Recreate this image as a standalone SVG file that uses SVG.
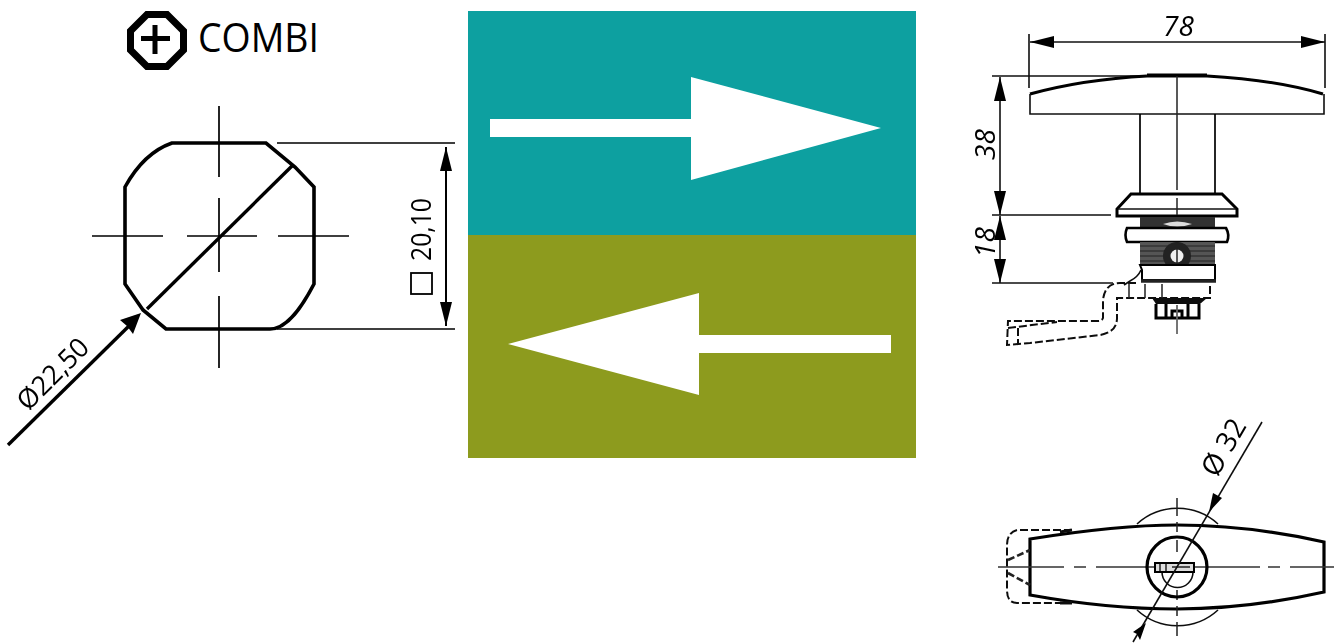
<svg xmlns="http://www.w3.org/2000/svg" width="1334" height="644" viewBox="0 0 1334 644">
<defs>
<style>
.l{fill:none;stroke:#000;stroke-width:1.7}
.m{fill:none;stroke:#111;stroke-width:1.6}
.b{fill:none;stroke:#000;stroke-width:3.6}
.h{fill:none;stroke:#000;stroke-width:3}
.d{fill:none;stroke:#111;stroke-width:2;stroke-dasharray:8 3}
.c{fill:none;stroke:#222;stroke-width:1.5}
.t{font-family:"Open Sans","Liberation Sans",sans-serif;fill:#000}
.i{font-style:italic}
.k{fill:#000;stroke:none}
</style>
<filter id="soft" x="-5%" y="-5%" width="110%" height="110%"><feGaussianBlur stdDeviation="0.4"/></filter>
<marker id="ah" viewBox="0 0 24 12" refX="24" refY="6" markerWidth="24" markerHeight="12" markerUnits="userSpaceOnUse" orient="auto-start-reverse"><path d="M0 0L24 6L0 12Z" fill="#000"/></marker>
</defs>
<rect width="1334" height="644" fill="#fff"/>
<g id="panel-top"><rect x="468" y="11" width="448" height="224" fill="#0da0a0"/>
<path d="M490 119H691V77L881 128L691 180V137H490Z" fill="#fff"/></g>
<g id="panel-bottom"><rect x="468" y="235" width="448" height="223" fill="#8d9b1e"/>
<path d="M891 335H699V293L508 344L699 395V353H891Z" fill="#fff"/></g>
<g id="combi">
<path d="M147 14.500H167L183.500 31V50L167 66.500H147L130.500 50V31Z" fill="none" stroke="#000" stroke-width="7"/>
<path d="M155 25V54M141 38.500H170" fill="none" stroke="#000" stroke-width="5"/>
<text class="t" x="198" y="52" font-size="40" textLength="121" lengthAdjust="spacingAndGlyphs">COMBI</text>
</g>
<g id="profile" filter="url(#soft)">
<path class="b" d="M172 143H266L295 167L314 187V284C303 305 288 329 270 329H166L143 310L125 284V187C136 167 152 150 172 143Z"/>
<path class="l" d="M219 106V177M219 198V272M219 296V368M92 236H163M187 236H257M278 236H349"/>
<path d="M293 165L147 309" fill="none" stroke="#000" stroke-width="3.400"/>
<path d="M8 445L132 323" fill="none" stroke="#000" stroke-width="3.400"/>
<path class="k" d="M141 313L120 320L127 326L133 334Z"/>
<path class="l" d="M277 143H455M277 329H455"/>
<path d="M446 147V326" fill="none" stroke="#000" stroke-width="2" marker-start="url(#ah)" marker-end="url(#ah)"/>
<rect x="411" y="273" width="21" height="21" fill="none" stroke="#000" stroke-width="1.800"/>
<text class="t" font-size="27" transform="translate(431 261) rotate(-90)" textLength="63" lengthAdjust="spacingAndGlyphs">20,10</text>
<text class="t" font-size="27" transform="translate(28 412) rotate(-45)" textLength="89" lengthAdjust="spacingAndGlyphs">Ø22,50</text>
</g>
<g id="side-view" filter="url(#soft)">
<path class="m" d="M1029 34V88M1325 34V88M992 76H1145M992 215H1111M992 283H1113"/>
<path class="m" d="M1030 42H1325" marker-start="url(#ah)" marker-end="url(#ah)"/>
<path class="m" d="M1000 77V215" marker-start="url(#ah)" marker-end="url(#ah)"/>
<path class="m" d="M1000 216V283" marker-start="url(#ah)" marker-end="url(#ah)"/>
<text class="t i" font-size="28" x="1163" y="36">78</text>
<text class="t i" font-size="28" transform="translate(995 160) rotate(-90)">38</text>
<text class="t i" font-size="28" transform="translate(995 258) rotate(-90)">18</text>
<path class="h" d="M1030 94C1070 83 1110 78 1147 76M1207 76C1245 78 1285 83 1323 94"/>
<path d="M1147 75.500H1207" stroke="#000" stroke-width="4" fill="none"/>
<path class="m" stroke-width="2" d="M1030 94V114H1324V94"/>
<path class="c" d="M1177 76V190"/>
<path class="l" stroke-width="2" d="M1140 114V194M1215 114V194"/>
<path class="h" stroke-width="2.400" d="M1131 194H1222L1237 209V216H1117V209Z"/>
<path d="M1118 209H1236" class="m"/>
<path d="M1177 198V215" class="c"/>
<rect x="1140" y="217" width="75" height="11" fill="#333"/>
<path d="M1163 224Q1177 219 1192 224Q1177 229 1163 224Z" fill="#ddd"/>
<path d="M1127 228H1226Q1230 235 1227 242H1127Q1124 235 1127 228Z" fill="#fff" stroke="#000" stroke-width="2.600"/>
<rect x="1140" y="242" width="75" height="23" fill="#555"/>
<path d="M1140 246H1215M1140 251H1215M1140 256H1215M1140 261H1215" stroke="#222" stroke-width="1.200"/>
<circle cx="1177" cy="256" r="14" fill="#222"/>
<circle cx="1177" cy="256" r="6.500" fill="#eee"/>
<path d="M1177 242V280" class="c"/>
<path d="M1140 265H1215V280H1142V270Z" fill="#fff" stroke="#000" stroke-width="2"/>
<path d="M1141 281H1216" stroke="#222" stroke-width="3.400" fill="none"/>
<path class="m" d="M1141 270Q1138 277 1130 281L1124 285"/>
<path class="d" d="M1136 283H1120Q1105 283 1103 300V318Q1102 321 1098 321H1008L1007 345L1030 343L1100 335Q1117 332 1117 318V298H1210V284"/>
<path class="d" d="M1008 328L1057 322M1018 328V345"/>
<path d="M1129 283V298M1145 284V298M1162 284V298" class="c"/>
<path d="M1152 298H1207L1200 304H1156Z" fill="#111"/>
<path d="M1156 304V318H1199V304M1166 304V318M1188 304V318" class="h" stroke-width="2.600"/>
<path d="M1172 318V311H1182V318" class="h" stroke-width="2"/>
<path d="M1177 305V334" stroke="#666" stroke-width="1.800" fill="none"/>
</g>
<g id="top-view" filter="url(#soft)">
<path d="M1137 524A60 60 0 0 1 1218 524M1137 610A60 60 0 0 0 1218 610" class="m"/>
<path d="M1030 539C1080 531 1130 525 1177 525C1225 525 1275 531 1324 542V592C1275 603 1225 609 1177 609C1130 609 1080 604 1030 595Z" fill="#fff" stroke="#000" stroke-width="3.200"/>
<path d="M998 567H1064M1074 567H1086M1096 567H1160M1194 567H1260M1268 567H1280M1290 567H1334" fill="none" stroke="#333" stroke-width="1.700"/>
<path d="M1177 498V516M1177 522V532M1177 540V552M1177 590V600M1177 606V616M1177 622V636" class="c"/>
<circle cx="1177" cy="567" r="30" fill="none" stroke="#000" stroke-width="3.200"/>
<path d="M1162 572A15 15 0 0 0 1193 572" class="m" stroke-width="2"/>
<rect x="1155" y="563" width="39" height="9" fill="#ddd" stroke="#000" stroke-width="2"/>
<path d="M1160 564V571M1166 564V571M1172 567H1190" stroke="#222" stroke-width="1.500"/>
<path d="M1262 422L1133 642" class="m"/>
<path class="k" d="M1209 512L1222 498L1213 493Z"/>
<path class="k" d="M1146 623L1133 632L1137 634L1140 640Z"/>
<path class="d" d="M1072 530H1017Q1007 533 1007 545V590Q1007 603 1017 603H1072"/>
<path d="M1008 560L1030 550M1008 573L1030 585" fill="none" stroke="#222" stroke-width="2.600" stroke-dasharray="7 3"/>
<path d="M1060 532L1072 530M1060 603L1072 603" stroke="#111" stroke-width="3"/>
<text class="t" font-size="28" text-anchor="middle" transform="translate(1232 452) rotate(-60)">Ø 32</text>
</g>
</svg>
